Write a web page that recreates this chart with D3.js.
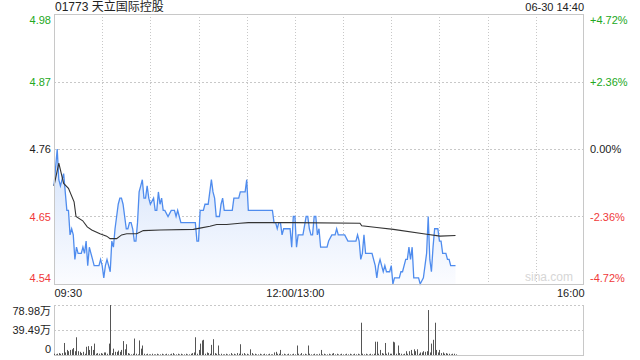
<!DOCTYPE html>
<html><head><meta charset="utf-8">
<script src="https://cdn.jsdelivr.net/npm/d3@7"></script>
<style>
body{margin:0;background:#fff;}
svg{display:block;font-family:"Liberation Sans",Arial,"Noto Sans CJK SC",sans-serif;}
</style></head><body>
<svg id="c" width="640" height="360"></svg>
<script>
const title = "01773 天立国际控股";
const stamp = "06-30 14:40";
const priceTicks = [4.54, 4.65, 4.76, 4.87, 4.98];
const priceTickLabels = ["4.54", "4.65", "4.76", "4.87", "4.98"];
const pctTickLabels = ["-4.72%", "-2.36%", "0.00%", "+2.36%", "+4.72%"];
const prevClose = 4.76;
const timeLabels = ["09:30", "12:00/13:00", "16:00"];
const timeLabelMinutes = [0, 150, 330];
const gridMinutes = [30, 60, 90, 120, 150, 180, 210, 240, 270, 300];
const volTicks = [0, 39.49, 78.98];
const volTickLabels = ["0", "39.49万", "78.98万"];

// price vertices: trading minute since 09:30 and price (rows aligned)
const priceMinutes = [
  0,2,3,4,5,6,8,9,10,11,
  12,13,14,15,17,18,19,20,21,22,
  23,24,25,28,29,30,31,32,33,35,
  36,37,38,40,41,42,43,44,45,46,
  47,48,49,50,51,52,53,54,55,56,
  57,58,59,60,62,63,64,65,66,67,
  68,69,71,73,75,76,77,78,79,88,
  89,90,91,93,94,96,98,99,100,101,
  103,104,105,106,111,112,115,116,119,120,
  121,136,137,138,139,140,141,142,143,147,
  148,149,150,151,152,155,157,158,159,160,
  161,162,163,164,165,166,170,171,173,175,
  176,177,181,183,188,189,190,191,192,193,
  194,198,200,201,202,203,204,205,206,207,
  209,210,211,212,215,216,217,219,220,221,
  222,223,224,226,227,228,230,231,232,233,
  234,235,236,237,239,240,241,242,244,245,
  246,247,250];
const priceValues = [
  4.70,4.76,4.71,4.70,4.71,4.72,4.66,4.66,4.62,4.63,
  4.62,4.58,4.60,4.59,4.59,4.60,4.59,4.61,4.57,4.60,
  4.59,4.58,4.57,4.57,4.58,4.57,4.55,4.57,4.58,4.56,
  4.61,4.60,4.63,4.67,4.68,4.68,4.67,4.65,4.63,4.63,
  4.64,4.64,4.63,4.61,4.61,4.64,4.69,4.70,4.71,4.68,
  4.68,4.70,4.68,4.67,4.68,4.66,4.66,4.69,4.67,4.68,
  4.66,4.66,4.65,4.66,4.66,4.65,4.66,4.65,4.64,4.64,
  4.61,4.61,4.66,4.66,4.67,4.67,4.71,4.69,4.68,4.65,
  4.65,4.67,4.68,4.66,4.66,4.68,4.68,4.69,4.69,4.71,
  4.66,4.66,4.64,4.64,4.63,4.64,4.64,4.62,4.63,4.63,
  4.60,4.65,4.65,4.60,4.62,4.62,4.65,4.65,4.63,4.62,
  4.62,4.65,4.65,4.62,4.63,4.60,4.60,4.61,4.62,4.62,
  4.63,4.62,4.62,4.61,4.61,4.62,4.61,4.58,4.59,4.62,
  4.59,4.59,4.57,4.55,4.57,4.58,4.57,4.56,4.57,4.56,
  4.56,4.57,4.54,4.55,4.55,4.56,4.56,4.58,4.58,4.60,
  4.58,4.60,4.55,4.55,4.55,4.54,4.55,4.57,4.59,4.65,
  4.58,4.56,4.60,4.63,4.63,4.61,4.61,4.59,4.59,4.58,
  4.58,4.57,4.57];

// average price vertices
const avgMinutes = [0,3,6,9,12.5,13.7,17.9,20.7,23.5,28.6,32.8,34.9,39,42.1,45.3,51.5,55.6,66,86.8,90.9,97.1,101.3,107.5,115.8,121,149,190.5,191.6,201,211.3,232.1,240.4,250];
const avgValues = [4.700,4.737,4.704,4.696,4.674,4.650,4.643,4.633,4.628,4.622,4.618,4.614,4.614,4.620,4.622,4.622,4.627,4.628,4.629,4.631,4.634,4.637,4.637,4.639,4.640,4.640,4.639,4.635,4.632,4.629,4.621,4.618,4.619];

// volume per minute (万), minute 0..250
const volValues = [
2,1,2,3,2,3,19,4,8,6,
8,9,11,6,28,6,5,3,5,2,
13,14,8,14,8,18,2,3,2,3,
2,4,4,2,18,78.98,3,10,5,5,
7,5,8,22,9,17,3,2,1,2,
26,2,1,23,10,15,2,1,2,1,
1,2,1,1,2,1,1,2,1,1,
2,1,1,2,3,1,1,2,1,2,
1,1,2,1,1,2,3,4,28,2,
8,18,23,24,2,4,3,2,16,25,
3,2,15,1,2,1,1,2,1,1,
3,1,2,1,3,2,17,2,3,1,
2,1,9,3,1,2,1,1,2,1,
1,2,1,1,2,1,1,4,5,2,
2,8,1,2,1,1,2,1,1,2,
1,15,2,1,3,1,2,1,15,2,
1,1,2,1,1,2,8,1,2,1,
1,2,1,2,3,1,2,1,1,2,
1,1,2,1,2,1,1,2,1,2,
1,51,2,1,2,1,1,2,1,2,
21,21,2,8,3,2,19,2,4,2,
2,21,20,2,15,3,2,1,2,6,
2,6,8,2,9,6,9,2,4,4,
6,5,6,71,4,18,24,51,8,4,
8,3,4,2,3,2,2,1,2,2,1];

const GREEN = "#22a822", RED = "#f03a3a", DARK = "#222", GRID = "#c8c8c8";
const svg = d3.select("#c");
const L = 54, R = 584, T = 14, B = 284, VT = 305, VB = 355;

const x = d3.scaleLinear().domain([0, 330]).range([L, R]);
const y = d3.scaleLinear().domain([4.54, 4.98]).range([B, T]);
const yv = d3.scaleLinear().domain([0, 78.98]).range([VB, VT]);

// gradient
const defs = svg.append("defs");
const g = defs.append("linearGradient").attr("id", "fillg").attr("gradientUnits", "userSpaceOnUse")
  .attr("x1", 0).attr("x2", 0).attr("y1", y(4.72)).attr("y2", B);
g.append("stop").attr("offset", 0).attr("stop-color", "#dbe7fb");
g.append("stop").attr("offset", 1).attr("stop-color", "#fbfcff");

// grids
const grid = svg.append("g");
grid.selectAll("line.h").data([4.65, 4.76, 4.87]).join("line")
  .attr("x1", L).attr("x2", R).attr("y1", d => Math.round(y(d)) + 0.5).attr("y2", d => Math.round(y(d)) + 0.5)
  .attr("stroke", GRID).attr("stroke-dasharray", "2,2");
grid.selectAll("line.v").data(gridMinutes).join("line")
  .attr("x1", d => Math.round(x(d)) + 0.5).attr("x2", d => Math.round(x(d)) + 0.5)
  .attr("y1", T).attr("y2", B).attr("stroke", GRID).attr("stroke-dasharray", "1,2");
grid.selectAll("line.vh").data([39.49, 78.98]).join("line")
  .attr("x1", L).attr("x2", R).attr("y1", d => Math.round(yv(d)) + 0.5).attr("y2", d => Math.round(yv(d)) + 0.5)
  .attr("stroke", GRID).attr("stroke-dasharray", "2,2");

// area + lines
const pts = priceMinutes.map((m, i) => [m, priceValues[i]]);
svg.append("path").datum(pts)
  .attr("d", d3.area().x(d => x(d[0])).y0(B).y1(d => y(d[1])))
  .attr("fill", "url(#fillg)");
svg.append("path").datum(pts)
  .attr("d", d3.line().x(d => x(d[0])).y(d => y(d[1])))
  .attr("fill", "none").attr("stroke", "#4f8cee").attr("stroke-width", 1.3);
const apts = avgMinutes.map((m, i) => [m, avgValues[i]]);
svg.append("path").datum(apts)
  .attr("d", d3.line().x(d => x(d[0])).y(d => y(d[1])))
  .attr("fill", "none").attr("stroke", "#333").attr("stroke-width", 1.1);

// watermark
svg.append("text").attr("x", R - 11).attr("y", 281).attr("text-anchor", "end")
  .attr("font-size", 12).attr("fill", "#d6d6d6").text("sina.com");

// borders
svg.append("rect").attr("x", L + 0.5).attr("y", T + 0.5).attr("width", R - L - 1).attr("height", B - T)
  .attr("fill", "none").attr("stroke", GRID);
svg.append("line").attr("x1", L + 0.5).attr("x2", L + 0.5).attr("y1", VT).attr("y2", VB).attr("stroke", GRID);
svg.append("line").attr("x1", R - 0.5).attr("x2", R - 0.5).attr("y1", VT).attr("y2", VB).attr("stroke", GRID);
svg.append("line").attr("x1", L).attr("x2", R).attr("y1", VB + 0.5).attr("y2", VB + 0.5).attr("stroke", GRID);

// volume bars
svg.append("g").selectAll("rect").data(volValues).join("rect")
  .attr("x", (d, i) => Math.round(x(i))).attr("width", 1)
  .attr("y", d => yv(d)).attr("height", d => VB - yv(d))
  .attr("fill", "#555");

// axes
function styleAxis(sel) { sel.select(".domain").remove(); sel.selectAll("line").remove(); sel.attr("font-size", 11).attr("font-family", null); }
const colorFor = v => v > prevClose ? GREEN : (v < prevClose ? RED : DARK);
const edgeShift = v => v === 4.98 ? 6 : (v === 4.54 ? -6 : 0);

const ax = svg.append("g").attr("transform", `translate(${L},0)`)
  .call(d3.axisLeft(y).tickValues(priceTicks).tickSize(0).tickPadding(3)
    .tickFormat((d, i) => priceTickLabels[i]));
styleAxis(ax);
ax.selectAll(".tick text").attr("fill", d => colorFor(d)).attr("dy", d => (0.32 + edgeShift(d) / 11) + "em");

const axr = svg.append("g").attr("transform", `translate(${R},0)`)
  .call(d3.axisRight(y).tickValues(priceTicks).tickSize(0).tickPadding(6)
    .tickFormat((d, i) => pctTickLabels[i]));
styleAxis(axr);
axr.selectAll(".tick text").attr("fill", d => colorFor(d)).attr("dy", d => (0.32 + edgeShift(d) / 11) + "em");

const axt = svg.append("g").attr("transform", `translate(0,${B})`)
  .call(d3.axisBottom(x).tickValues(timeLabelMinutes).tickSize(0).tickPadding(5)
    .tickFormat((d, i) => timeLabels[i]));
styleAxis(axt);
axt.selectAll(".tick text").attr("fill", DARK)
  .attr("text-anchor", (d, i) => i === 0 ? "start" : (i === 2 ? "end" : "middle"));

const axv = svg.append("g").attr("transform", `translate(${L},0)`)
  .call(d3.axisLeft(yv).tickValues(volTicks).tickSize(0).tickPadding(3)
    .tickFormat((d, i) => volTickLabels[i]));
styleAxis(axv);
axv.selectAll(".tick text").attr("fill", DARK)
  .attr("dy", d => (0.32 + (d === 78.98 ? 6 : (d === 0 ? -6 : 0)) / 11) + "em");

// header
svg.append("text").attr("x", L + 1).attr("y", 11).attr("font-size", 12).attr("fill", DARK).text(title);
svg.append("text").attr("x", R).attr("y", 11).attr("font-size", 11).attr("text-anchor", "end").attr("fill", DARK).text(stamp);
</script>
</body></html>
